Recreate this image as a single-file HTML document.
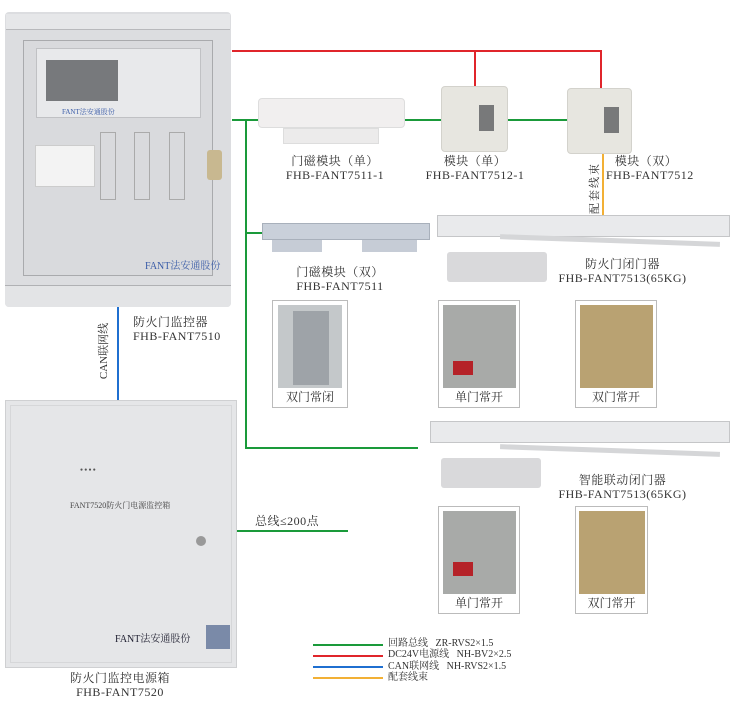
<!DOCTYPE html>
<html><head><meta charset="utf-8"><style>
body{margin:0;width:738px;height:708px;background:#fff;position:relative;overflow:hidden;font-family:"Liberation Serif","Noto Serif CJK SC",serif;color:#333}
div{position:absolute;box-sizing:border-box}
.l{background:#1a9a3a}
.r{background:#e0252b}
.t{font-size:12px;line-height:14px;text-align:center;white-space:nowrap;letter-spacing:0.5px}
.ph{border:1px solid #bbb;background:#fff}
.cap{font-size:12px;text-align:center;width:100%;bottom:2px;left:0}
</style></head><body>
<!-- controller cabinet -->
<div style="left:5px;top:12px;width:226px;height:295px;background:#dcdde0;border-radius:4px"></div>
<div style="left:6px;top:14px;width:224px;height:16px;background:#e6e7e9;border-bottom:1px solid #b8b9bc"></div>
<div style="left:23px;top:40px;width:190px;height:236px;border:1px solid #a9aaad;background:#d9dadd"></div>
<div style="left:36px;top:48px;width:165px;height:70px;background:#e8e9eb;border:1px solid #c0c1c4"></div>
<div style="left:46px;top:60px;width:72px;height:41px;background:#77797c"></div>
<div style="left:62px;top:107px;font-size:7px;color:#3a5ca8">FANT法安通股份</div>
<div style="left:35px;top:145px;width:60px;height:42px;background:#f3f3f3;border:1px solid #ccc"></div>
<div style="left:100px;top:132px;width:16px;height:68px;border:1px solid #aaa"></div>
<div style="left:134px;top:132px;width:16px;height:68px;border:1px solid #aaa"></div>
<div style="left:169px;top:132px;width:16px;height:68px;border:1px solid #aaa"></div>
<div style="left:207px;top:150px;width:15px;height:30px;background:#c8b890;border-radius:3px"></div>
<div style="left:145px;top:257px;font-size:10px;color:#3a5ca8">FANT法安通股份</div>
<div style="left:5px;top:285px;width:226px;height:22px;background:#e3e4e6;border-top:1px solid #b0b1b4;border-radius:0 0 4px 4px"></div>
<!-- power box -->
<div style="left:5px;top:400px;width:232px;height:268px;background:#e5e6e8;border:1px solid #cfd0d2"></div>
<div style="left:10px;top:405px;width:222px;height:258px;border:1px solid #d6d7d9"></div>
<div style="left:80px;top:468px;font-size:5px;color:#555">● ● ● ●</div>
<div style="left:70px;top:500px;font-size:8px;color:#444">FANT7520防火门电源监控箱</div>
<div style="left:196px;top:536px;width:10px;height:10px;border-radius:50%;background:#999"></div>
<div style="left:115px;top:630px;font-size:10px;color:#223">FANT法安通股份</div>
<div style="left:206px;top:625px;width:24px;height:24px;background:#7a8aa8"></div>
<!-- lines -->
<div class="r" style="left:232px;top:50px;width:370px;height:2px"></div>
<div class="r" style="left:474px;top:50px;width:2px;height:36px"></div>
<div class="r" style="left:600px;top:50px;width:2px;height:38px"></div>
<div class="l" style="left:232px;top:119px;width:340px;height:2px"></div>
<div class="l" style="left:245px;top:119px;width:2px;height:330px"></div>
<div class="l" style="left:245px;top:232px;width:18px;height:2px"></div>
<div class="l" style="left:245px;top:447px;width:173px;height:2px"></div>
<div style="left:602px;top:153px;width:2px;height:62px;background:#f2b035"></div>
<div style="left:117px;top:307px;width:2px;height:93px;background:#1f6fd0"></div>
<div class="l" style="left:237px;top:530px;width:111px;height:2px"></div>
<!-- devices row1 -->
<div style="left:258px;top:98px;width:147px;height:30px;background:#f1efef;border:1px solid #ddd;border-radius:4px"></div>
<div style="left:283px;top:128px;width:96px;height:16px;background:#ecebeb;border:1px solid #ddd"></div>
<div style="left:441px;top:86px;width:67px;height:66px;background:#e7e6e0;border-radius:4px;border:1px solid #d3d2cc"></div>
<div style="left:479px;top:105px;width:15px;height:26px;background:#78797a"></div>
<div style="left:567px;top:88px;width:65px;height:66px;background:#e7e6e0;border-radius:4px;border:1px solid #d3d2cc"></div>
<div style="left:604px;top:107px;width:15px;height:26px;background:#78797a"></div>
<div class="t" style="left:270px;top:154px;width:130px">门磁模块（单）<br>FHB-FANT7511-1</div>
<div class="t" style="left:420px;top:154px;width:110px">模块（单）<br>FHB-FANT7512-1</div>
<div class="t" style="left:606px;top:154px;width:80px">模块（双）<br>FHB-FANT7512</div>
<div style="left:564px;top:180px;width:60px;font-size:11px;text-align:center;transform:rotate(-90deg);letter-spacing:2px;white-space:nowrap">配套线束</div>
<!-- row2 -->
<div style="left:262px;top:223px;width:168px;height:17px;background:#c9d0da;border:1px solid #a8b0bb"></div>
<div style="left:272px;top:240px;width:50px;height:12px;background:#c6ccd6"></div>
<div style="left:362px;top:240px;width:55px;height:12px;background:#c6ccd6"></div>
<div class="t" style="left:280px;top:265px;width:120px">门磁模块（双）<br>FHB-FANT7511</div>
<div style="left:437px;top:215px;width:293px;height:22px;background:#e9eaec;border:1px solid #c5c6c8"></div>
<div style="left:500px;top:238px;width:220px;height:5px;background:#d5d6d8;transform:rotate(2deg)"></div>
<div style="left:447px;top:252px;width:100px;height:30px;background:#d9d9db;border-radius:3px"></div>
<div class="t" style="left:555px;top:257px;width:135px">防火门闭门器<br>FHB-FANT7513(65KG)</div>
<!-- photos row1 -->
<div class="ph" style="left:272px;top:300px;width:76px;height:108px"><div style="left:5px;top:4px;width:64px;height:83px;background:#c4c8ca"></div><div style="left:20px;top:10px;width:36px;height:74px;background:#9ea3a8"></div><div class="cap">双门常闭</div></div>
<div class="ph" style="left:438px;top:300px;width:82px;height:108px"><div style="left:4px;top:4px;width:73px;height:83px;background:#a8aaa8"></div><div style="left:14px;top:60px;width:20px;height:14px;background:#b52228"></div><div class="cap">单门常开</div></div>
<div class="ph" style="left:575px;top:300px;width:82px;height:108px"><div style="left:4px;top:4px;width:73px;height:83px;background:#b9a272"></div><div class="cap">双门常开</div></div>
<!-- row3 -->
<div style="left:430px;top:421px;width:300px;height:22px;background:#e9eaec;border:1px solid #c5c6c8"></div>
<div style="left:500px;top:448px;width:220px;height:5px;background:#d5d6d8;transform:rotate(2deg)"></div>
<div style="left:441px;top:458px;width:100px;height:30px;background:#d9d9db;border-radius:3px"></div>
<div class="t" style="left:555px;top:473px;width:135px">智能联动闭门器<br>FHB-FANT7513(65KG)</div>
<div class="t" style="left:255px;top:514px;width:80px;text-align:left">总线≤200点</div>
<div class="ph" style="left:438px;top:506px;width:82px;height:108px"><div style="left:4px;top:4px;width:73px;height:83px;background:#a8aaa8"></div><div style="left:14px;top:55px;width:20px;height:14px;background:#b52228"></div><div class="cap">单门常开</div></div>
<div class="ph" style="left:575px;top:506px;width:73px;height:108px"><div style="left:3px;top:4px;width:66px;height:83px;background:#b9a272"></div><div class="cap">双门常开</div></div>
<!-- legend -->
<div class="l" style="left:313px;top:644px;width:70px;height:2px"></div>
<div class="r" style="left:313px;top:655px;width:70px;height:2px"></div>
<div style="left:313px;top:666px;width:70px;height:2px;background:#1f6fd0"></div>
<div style="left:313px;top:677px;width:70px;height:2px;background:#f2b035"></div>
<div style="left:388px;top:638px;font-size:10px;line-height:11.3px;white-space:pre">回路总线   ZR-RVS2×1.5
DC24V电源线   NH-BV2×2.5
CAN联网线   NH-RVS2×1.5
配套线束</div>
<!-- labels -->
<div class="t" style="left:133px;top:315px;width:90px;text-align:left">防火门监控器<br>FHB-FANT7510</div>
<div style="left:68px;top:343px;width:70px;font-size:11px;text-align:center;transform:rotate(-90deg);white-space:nowrap">CAN联网线</div>
<div class="t" style="left:50px;top:671px;width:140px">防火门监控电源箱<br>FHB-FANT7520</div>
</body></html>
